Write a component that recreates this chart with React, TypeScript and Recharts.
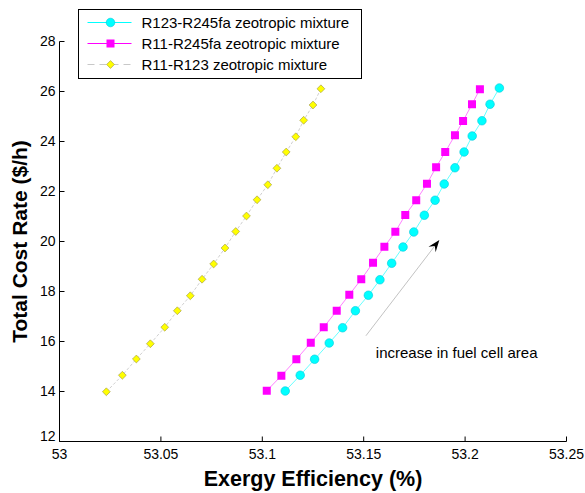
import React from "react";
import {
  ScatterChart,
  Scatter,
  XAxis,
  YAxis,
  Legend,
  Label,
  ReferenceLine,
  ReferenceDot,
} from "recharts";

const FONT = "Arial, 'Liberation Sans', Helvetica, sans-serif";

const xTicks = [53, 53.05, 53.1, 53.15, 53.2, 53.25];
const yTicks = [12, 14, 16, 18, 20, 22, 24, 26, 28];

// R123-R245fa zeotropic mixture
const r123r245faEff = [
  53.1113, 53.1187, 53.1258, 53.133, 53.1396, 53.1459, 53.1523, 53.158, 53.1638, 53.1694,
  53.1747, 53.1799, 53.1852, 53.1897, 53.195, 53.1995, 53.2035, 53.2083, 53.2123, 53.2169,
];
const r123r245faCost = [
  14.02, 14.65, 15.29, 15.94, 16.55, 17.23, 17.85, 18.47, 19.13, 19.78,
  20.38, 21.05, 21.65, 22.3, 22.95, 23.58, 24.22, 24.83, 25.49, 26.14,
];

// R11-R245fa zeotropic mixture
const r11r245faEff = [
  53.1022, 53.1094, 53.1168, 53.1239, 53.1303, 53.1367, 53.1429, 53.1488, 53.1546, 53.1602,
  53.1656, 53.1705, 53.1759, 53.1812, 53.1857, 53.1902, 53.195, 53.199, 53.2034, 53.2073,
];
const r11r245faCost = [
  14.03, 14.63, 15.29, 15.95, 16.57, 17.23, 17.87, 18.49, 19.15, 19.79,
  20.39, 21.06, 21.65, 22.31, 22.97, 23.58, 24.25, 24.82, 25.49, 26.09,
];

// R11-R123 zeotropic mixture
const r11r123Eff = [
  53.0231, 53.031, 53.0379, 53.0448, 53.0519, 53.0581, 53.0645, 53.0703, 53.076, 53.0816,
  53.0869, 53.0922, 53.0974, 53.1027, 53.1072, 53.1118, 53.1165, 53.1204, 53.125, 53.1289,
];
const r11r123Cost = [
  13.99, 14.65, 15.3, 15.91, 16.57, 17.23, 17.83, 18.49, 19.1, 19.74,
  20.4, 21.02, 21.67, 22.27, 22.93, 23.58, 24.19, 24.85, 25.46, 26.11,
];

// arrow "increase in fuel cell area"
const arrowFrom = { eff: 53.1511, cost: 16.23 };
const arrowTo = { eff: 53.1873, cost: 20.06 };
const noteAt = { eff: 53.1535, cost: 15.55 };
const noteText = "increase in fuel cell area";

const toPoints = (eff: number[], cost: number[]) =>
  eff.map((x, i) => ({ x, y: cost[i] }));

const CircleMark = (p: any) => (
  <circle cx={p.cx} cy={p.cy} r={4.3} fill="#00ffff" stroke="#00c8dc" strokeWidth={0.6} />
);
const SquareMark = (p: any) => (
  <rect x={p.cx - 4} y={p.cy - 4} width={8} height={8} fill="#ff00ff" />
);
const diamondPts = (cx: number, cy: number, h: number) =>
  `${cx},${cy - h} ${cx + h},${cy} ${cx},${cy + h} ${cx - h},${cy}`;
const DiamondMark = (p: any) => (
  <polygon points={diamondPts(p.cx, p.cy, 3.9)} fill="#ffff00" stroke="#a8a050" strokeWidth={0.7} />
);

const series = [
  {
    name: "R123-R245fa zeotropic mixture",
    data: toPoints(r123r245faEff, r123r245faCost),
    line: { stroke: "#00ffff", strokeWidth: 0.6 },
    legendLine: { stroke: "#00ffff", dash: undefined as string | undefined },
    shape: CircleMark,
  },
  {
    name: "R11-R245fa zeotropic mixture",
    data: toPoints(r11r245faEff, r11r245faCost),
    line: { stroke: "#ff00ff", strokeWidth: 0.5 },
    legendLine: { stroke: "#ff00ff", dash: undefined as string | undefined },
    shape: SquareMark,
  },
  {
    name: "R11-R123 zeotropic mixture",
    data: toPoints(r11r123Eff, r11r123Cost),
    line: { stroke: "#b0b0b0", strokeWidth: 0.6, strokeDasharray: "3 2" },
    legendLine: { stroke: "#c8c8c8", dash: "7 5" as string | undefined },
    shape: DiamondMark,
  },
];

const XTick = (props: any) => (
  <text x={props.x} y={props.y + 17} textAnchor="middle" fontFamily={FONT} fontSize={14} fill="#000">
    {props.payload.value}
  </text>
);

const YTick = (props: any) => (
  <text
    x={props.x - 4}
    y={props.y + (props.payload.value === 12 ? -1 : 4)}
    textAnchor="end"
    fontFamily={FONT}
    fontSize={14}
    fill="#000"
  >
    {props.payload.value}
  </text>
);

const Arrow = (props: any) => {
  const { x1, y1, x2, y2 } = props;
  const dx = x2 - x1;
  const dy = y2 - y1;
  const len = Math.sqrt(dx * dx + dy * dy);
  const ux = dx / len;
  const uy = dy / len;
  const nx = -uy;
  const ny = ux;
  const L = 12;
  const W = 4.5;
  const head = [
    [x2, y2],
    [x2 - L * ux + W * nx, y2 - L * uy + W * ny],
    [x2 - 0.62 * L * ux, y2 - 0.62 * L * uy],
    [x2 - L * ux - W * nx, y2 - L * uy - W * ny],
  ]
    .map((p) => p.join(","))
    .join(" ");
  return (
    <g>
      <line x1={x1} y1={y1} x2={x2 - 0.6 * L * ux} y2={y2 - 0.6 * L * uy} stroke="#a8a8a8" strokeWidth={0.7} />
      <polygon points={head} fill="#000" />
    </g>
  );
};

const renderLegend = () => (
  <div style={{ border: "1px solid #000", background: "#fff", width: 282, height: 68 }}>
    <svg width={282} height={68} style={{ display: "block" }}>
      {series.map((s, i) => {
        const cy = 12.5 + i * 21;
        return (
          <g key={s.name}>
            <line
              x1={8.5}
              x2={52.5}
              y1={cy}
              y2={cy}
              stroke={s.legendLine.stroke}
              strokeWidth={1}
              strokeDasharray={s.legendLine.dash}
            />
            {s.shape({ cx: 31.5, cy })}
            <text x={62.5} y={cy + 5.5} fontFamily={FONT} fontSize={15} fill="#000">
              {s.name}
            </text>
          </g>
        );
      })}
    </svg>
  </div>
);

export default function App() {
  return (
    <div style={{ position: "absolute", left: 0, top: 0, width: 585, height: 493, background: "#fff" }}>
      <ScatterChart width={585} height={493} margin={{ top: 41.5, right: 18.5, bottom: 0, left: 0 }}>
        <XAxis
          xAxisId="bottom"
          type="number"
          dataKey="x"
          domain={[53, 53.25]}
          allowDataOverflow
          ticks={xTicks}
          height={51.5}
          stroke="#000"
          tickSize={-5}
          tickMargin={5}
          tick={<XTick />}
        >
          <Label
            content={(p: any) => (
              <text
                x={p.viewBox.x + p.viewBox.width / 2}
                y={p.viewBox.y + 44}
                textAnchor="middle"
                fontFamily={FONT}
                fontSize={21.5}
                fontWeight="bold"
                fill="#000"
              >
                Exergy Efficiency (%)
              </text>
            )}
          />
        </XAxis>
        <XAxis
          xAxisId="top"
          orientation="top"
          type="number"
          domain={[53, 53.25]}
          allowDataOverflow
          ticks={xTicks}
          height={0}
          stroke="#000"
          tickSize={-5}
          tick={false}
        />
        <YAxis
          yAxisId="left"
          type="number"
          dataKey="y"
          domain={[12, 28]}
          allowDataOverflow
          ticks={yTicks}
          width={59.5}
          stroke="#000"
          tickSize={-5}
          tickMargin={5}
          tick={<YTick />}
        >
          <Label
            content={(p: any) => {
              const cx = 27;
              const cy = p.viewBox.y + p.viewBox.height / 2;
              return (
                <text
                  x={cx}
                  y={cy}
                  transform={`rotate(-90, ${cx}, ${cy})`}
                  textAnchor="middle"
                  fontFamily={FONT}
                  fontSize={21}
                  fontWeight="bold"
                  fill="#000"
                >
                  Total Cost Rate ($/h)
                </text>
              );
            }}
          />
        </YAxis>
        <YAxis
          yAxisId="right"
          orientation="right"
          type="number"
          domain={[12, 28]}
          allowDataOverflow
          ticks={yTicks}
          width={0}
          stroke="#000"
          tickSize={-5}
          tick={false}
        />
        {series.map((s) => (
          <Scatter
            key={s.name}
            name={s.name}
            data={s.data}
            xAxisId="bottom"
            yAxisId="left"
            line={s.line}
            shape={s.shape}
            isAnimationActive={false}
          />
        ))}
        <ReferenceLine
          xAxisId="bottom"
          yAxisId="left"
          segment={[
            { x: arrowFrom.eff, y: arrowFrom.cost },
            { x: arrowTo.eff, y: arrowTo.cost },
          ]}
          shape={Arrow}
        />
        <ReferenceDot
          xAxisId="bottom"
          yAxisId="left"
          x={noteAt.eff}
          y={noteAt.cost}
          r={0}
          stroke="none"
          fill="none"
          label={{ value: noteText, position: "right", offset: 5, fontFamily: FONT, fontSize: 15, fill: "#000" }}
        />
        <Legend
          layout="horizontal"
          verticalAlign="middle"
          content={renderLegend}
          wrapperStyle={{ left: 78, top: 9, width: 284, height: 70 }}
        />
      </ScatterChart>
    </div>
  );
}
